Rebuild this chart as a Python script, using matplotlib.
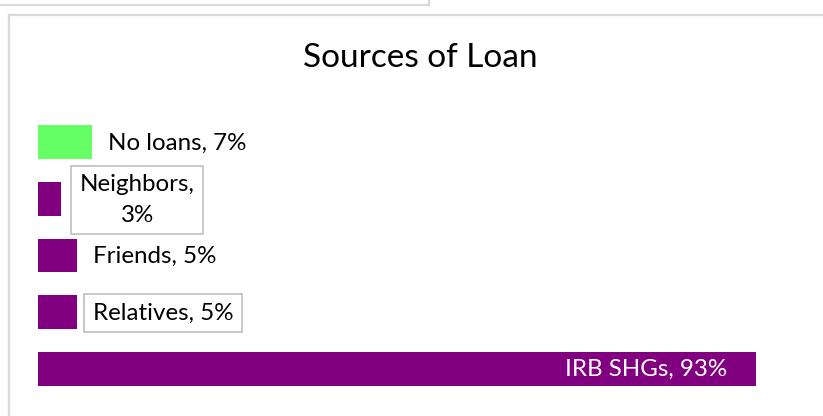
import matplotlib.pyplot as plt
from matplotlib.lines import Line2D

plt.rcParams['font.family'] = ['Lato', 'DejaVu Sans']

# bottom to top
sources = ['IRB SHGs', 'Relatives', 'Friends', 'Neighbors', 'No loans']
shares = [93, 5, 5, 3, 7]
colors = ['#800080', '#800080', '#800080', '#800080', '#66FF66']

W, H = 823, 416
fig = plt.figure(figsize=(W / 100, H / 100), dpi=100)


def px(x, y):
    return x / W, 1 - y / H


# chart frames
frame = '#d9d9d9'
for xs, ys in [((0, 429), (4.5, 4.5)), ((429, 429), (0, 4.5)),
               ((8.5, 8.5), (14.5, H)), ((8.5, W), (14.5, 14.5))]:
    a, b = px(xs[0], ys[0])
    c, d = px(xs[1], ys[1])
    fig.add_artist(Line2D([a, c], [b, d], color=frame, lw=1.6))

left, top = px(38, 114)
right, bottom = px(810, 397)
ax = fig.add_axes([left, bottom, right - left, top - bottom])

y = range(len(sources))
ax.barh(y, shares, height=0.6, color=colors)
ax.set_xlim(0, 100)
ax.set_ylim(-0.5, len(sources) - 0.5)
ax.axis('off')

fs = 17.4
box = dict(boxstyle='square,pad=0.35', fc='white', ec='#bfbfbf', lw=1.2)
for i, (name, v) in enumerate(zip(sources, shares)):
    if name == 'IRB SHGs':
        ax.annotate(f'{name}, {v}%', (v, i), xytext=(-29, -1),
                    textcoords='offset pixels', ha='right', va='center',
                    color='white', fontsize=fs)
    elif name == 'Neighbors':
        ax.annotate(f'{name},\n{v}%', (v, i), xytext=(76, -1),
                    textcoords='offset pixels', ha='center', va='center',
                    fontsize=fs, linespacing=1.55, bbox=box)
    elif name == 'Relatives':
        ax.annotate(f'{name}, {v}%', (v, i), xytext=(16, -1),
                    textcoords='offset pixels', ha='left', va='center',
                    fontsize=fs, bbox=box)
    else:
        ax.annotate(f'{name}, {v}%', (v, i), xytext=(16, -1),
                    textcoords='offset pixels', ha='left', va='center',
                    fontsize=fs)

fig.text(0.5 * (303 + 538) / W, 1 - 58 / H, 'Sources of Loan',
         ha='center', va='center', fontsize=24)

fig.savefig('out.png', dpi=100)
